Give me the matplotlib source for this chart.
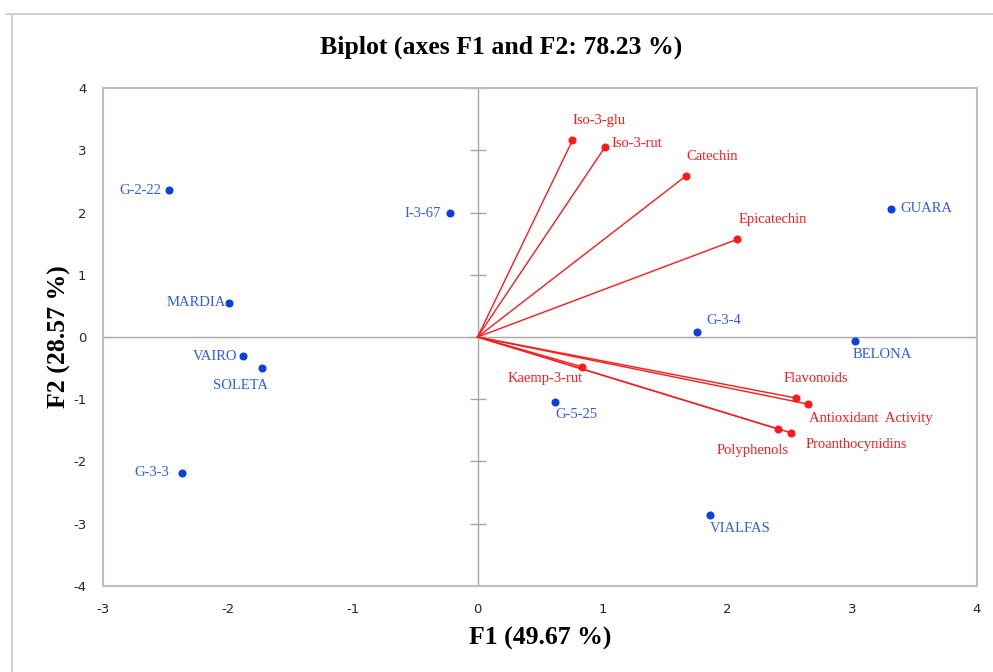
import numpy as np
import matplotlib.pyplot as plt
from matplotlib.lines import Line2D

plt.rcParams['axes.unicode_minus'] = False

# observations (cultivars) on F1/F2
obs_names = ["G-2-22", "I-3-67", "MARDIA", "VAIRO", "SOLETA", "G-3-3",
             "G-3-4", "BELONA", "GUARA", "G-5-25", "VIALFAS"]
obs_f1 = [-2.47, -0.22, -1.99, -1.88, -1.73, -2.37, 1.76, 3.02, 3.31, 0.62, 1.86]
obs_f2 = [2.36, 1.99, 0.55, -0.31, -0.50, -2.18, 0.08, -0.06, 2.06, -1.04, -2.86]

# variables (loadings)
var_names = ["Iso-3-glu", "Iso-3-rut", "Catechin", "Epicatechin", "Kaemp-3-rut",
             "Flavonoids", "Antioxidant  Activity", "Polyphenols", "Proanthocynidins"]
var_f1 = [0.76, 1.02, 1.67, 2.08, 0.84, 2.55, 2.65, 2.41, 2.51]
var_f2 = [3.16, 3.05, 2.59, 1.57, -0.48, -0.98, -1.08, -1.48, -1.54]

xticks = [-3, -2, -1, 0, 1, 2, 3, 4]
yticks = [-4, -3, -2, -1, 0, 1, 2, 3, 4]

# label offsets in pixels and alignment
obs_off = [(-8, 0, 'right'), (-9, 0, 'right'), (-3, 0, 'right'), (-5, 0, 'right'),
           (-21, -17, 'center'), (-12, 0, 'right'), (9, 12, 'left'), (-2, -14, 'left'),
           (10, 0, 'left'), (0, -13, 'left'), (0, -13, 'left')]
var_off = [(0, 20, 'left'), (7, 4, 'left'), (0, 19, 'left'), (1, 20, 'left'),
           (0, -12, 'right'), (-12, 20, 'left'), (1, -14, 'left'), (10, -21, 'right'),
           (15, -12, 'left')]

serif = ['Liberation Serif', 'DejaVu Serif']
blue_pt = '#0b3fe0'
blue_txt = '#2f5de8'
red = '#ff1a1a'
grid_gray = '#a6a6a6'

fig = plt.figure(figsize=(9.93, 6.72), dpi=100)
ax = fig.add_axes([0.1037, 0.128, 0.8802, 0.741])

ax.axhline(0, color=grid_gray, lw=1, zorder=1)
ax.axvline(0, color=grid_gray, lw=1, zorder=1)
# tick marks crossing the vertical zero line
ax.plot(np.zeros(len(yticks)), yticks, marker='_', markersize=12, mew=1,
        linestyle='none', color=grid_gray, zorder=1)

for x, y in zip(var_f1, var_f2):
    ax.plot([0, x], [0, y], color=red, lw=1, zorder=2)
ax.plot(var_f1, var_f2, 'o', color=red, markersize=4.8, zorder=3)
ax.plot(obs_f1, obs_f2, 'o', color=blue_pt, markersize=4.8, zorder=3)

for name, x, y, (dx, dy, ha) in zip(obs_names, obs_f1, obs_f2, obs_off):
    ax.annotate(name, (x, y), xytext=(dx, dy), textcoords='offset pixels',
                ha=ha, va='center', color=blue_txt, fontsize=10.5, family=serif)
for name, x, y, (dx, dy, ha) in zip(var_names, var_f1, var_f2, var_off):
    ax.annotate(name, (x, y), xytext=(dx, dy), textcoords='offset pixels',
                ha=ha, va='center', color=red, fontsize=10.5, family=serif)

ax.set_xlim(-3, 4)
ax.set_ylim(-4, 4)
ax.set_xticks(xticks)
ax.set_yticks(yticks)
ax.tick_params(length=0, labelsize=9.5, colors='#262626')
ax.tick_params(axis='x', pad=12)
ax.tick_params(axis='y', pad=12)
for s in ax.spines.values():
    s.set_color('#bfbfbf')
    s.set_linewidth(1.5)

ax.set_xlabel("F1 (49.67 %)", fontsize=18.5, fontweight='bold', family=serif, labelpad=8)
ax.set_ylabel("F2 (28.57 %)", fontsize=18.5, fontweight='bold', family=serif, labelpad=1.5)
fig.text(0.505, 0.929, "Biplot (axes F1 and F2: 78.23 %)", ha='center', va='center',
         fontsize=18.5, fontweight='bold', family=serif)

# outer frame lines (top and left) of the source picture
fig.add_artist(Line2D([0.006, 1.0], [0.979, 0.979], transform=fig.transFigure,
                      color='#c8c8c8', lw=1.2))
fig.add_artist(Line2D([0.012, 0.012], [0.0, 0.979], transform=fig.transFigure,
                      color='#c8c8c8', lw=1.2))

fig.savefig('out.png', dpi=100)
